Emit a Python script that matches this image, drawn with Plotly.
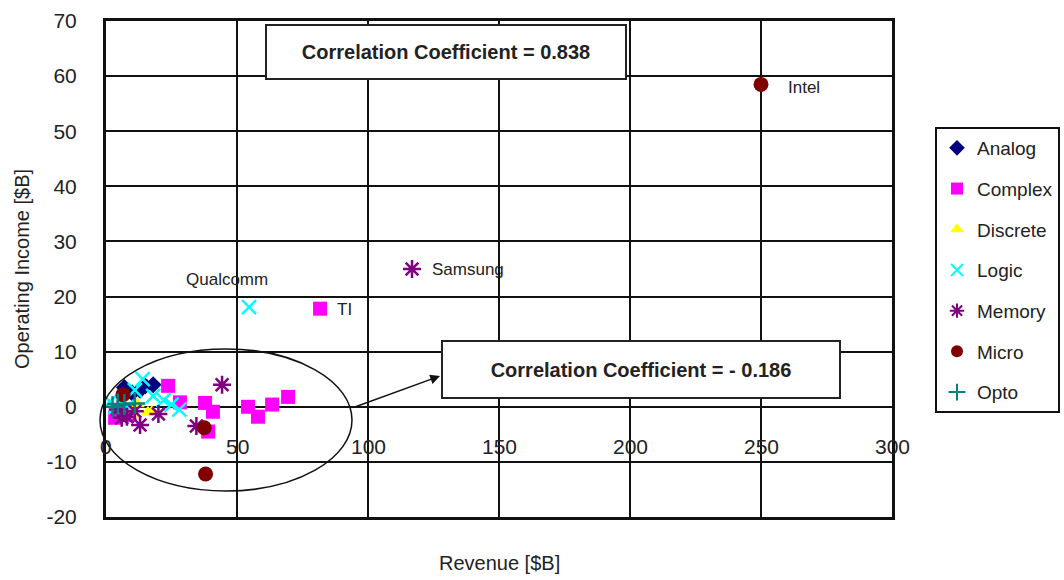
import plotly.graph_objects as go

# Revenue [$B] and operating income [$B] per company, grouped by segment
analog_rev = [7.0, 10.0, 13.0, 15.0, 18.0]
analog_inc = [3.5, 2.5, 3.0, 3.8, 4.0]

complex_rev = [3.5, 6.0, 9.0, 23.7, 28.2, 37.8, 40.8, 39.0, 54.2, 58.0, 63.4, 69.5, 81.7]
complex_inc = [-2.0, -1.2, -1.5, 3.8, 0.8, 0.7, -0.9, -4.5, 0.0, -1.8, 0.4, 1.8, 17.8]

discrete_rev = [8.0, 10.0, 12.0, 16.0, 17.5]
discrete_inc = [-0.5, -1.5, 0.5, -1.0, -0.9]

logic_rev = [1.5, 3.5, 8.0, 11.0, 14.0, 18.0, 22.0, 25.0, 28.0, 54.6]
logic_inc = [0.9, 0.0, 0.0, 3.0, 5.0, 2.0, 1.2, 0.4, -0.5, 18.1]

memory_rev = [4.5, 6.0, 8.0, 11.0, 13.0, 20.0, 34.5, 44.3, 116.8]
memory_inc = [-0.5, -2.0, -1.8, -0.8, -3.3, -1.3, -3.5, 4.0, 25.0]

micro_rev = [6.5, 37.5, 38.0, 250.0]
micro_inc = [2.2, -3.8, -12.2, 58.5]

opto_rev = [2.5, 4.5, 7.0, 11.0]
opto_inc = [0.0, 0.5, 0.4, 0.6]

x_ticks = [0, 50, 100, 150, 200, 250, 300]
y_ticks = [-20, -10, 0, 10, 20, 30, 40, 50, 60, 70]
y_tick_text = ["-20", "-10", "0", "10", "20", "30", "40", "50", "60", "70"]

# Named companies: (label, revenue list, income list, index, x shift, y shift, anchor)
callouts = [
    ("Intel", micro_rev, micro_inc, 3, 25, -3, "left"),
    ("Samsung", memory_rev, memory_inc, 8, 18, 0, "left"),
    ("TI", complex_rev, complex_inc, 12, 15, -1, "left"),
    ("Qualcomm", logic_rev, logic_inc, 9, -22, 28, "center"),
]

all_corr = "Correlation Coefficient = 0.838"
small_corr = "Correlation Coefficient = - 0.186"

FONT = "Liberation Sans, Arial, sans-serif"
INK = "#222"

segments = [
    ("Analog", analog_rev, analog_inc, dict(symbol="diamond", size=13, color="#000080")),
    ("Complex", complex_rev, complex_inc, dict(symbol="square", size=14, color="#FF00FF")),
    ("Discrete", discrete_rev, discrete_inc, dict(symbol="triangle-up", size=13, color="#FFFF00")),
    ("Logic", logic_rev, logic_inc, dict(symbol="x-thin-open", size=14, color="#00FFFF",
                                          line=dict(width=2.5, color="#00FFFF"))),
    ("Memory", memory_rev, memory_inc, dict(symbol="asterisk-open", size=15, color="#800080",
                                            line=dict(width=2.5, color="#800080"))),
    ("Micro", micro_rev, micro_inc, dict(symbol="circle", size=15, color="#800000")),
    ("Opto", opto_rev, opto_inc, dict(symbol="cross-thin-open", size=15, color="#008080",
                                      line=dict(width=2.5, color="#008080"))),
]

fig = go.Figure()
for name, xs, ys, mk in segments:
    fig.add_trace(go.Scatter(x=xs, y=ys, mode="markers", name=name, marker=mk,
                             legendgroup=name))

W, H = 1064, 580
L, R, T, B = 106, 172, 21, 63
pw, ph = W - L - R, H - T - B


def px(xpix):
    return (xpix - L) / pw


def py(ypix):
    return (H - B - ypix) / ph


annotations = []
for label, xs, ys, i, dx, dy, anchor in callouts:
    annotations.append(dict(x=xs[i], y=ys[i], xref="x", yref="y", text=label,
                            showarrow=False, xanchor=anchor, yanchor="middle",
                            xshift=dx, yshift=dy,
                            font=dict(family=FONT, size=17, color=INK)))

# x tick labels sit just below the zero line
for t in x_ticks:
    annotations.append(dict(x=t, y=0, xref="x", yref="y", text=str(t), showarrow=False,
                            xanchor="center", yanchor="middle", yshift=-40,
                            font=dict(family=FONT, size=21, color=INK)))

# correlation boxes
annotations.append(dict(x=px(446), y=py(52), xref="paper", yref="paper",
                        text="<b>" + all_corr + "</b>",
                        xanchor="center", yanchor="middle",
                        showarrow=False, bgcolor="white", bordercolor=INK,
                        borderwidth=2, borderpad=0, width=358, height=52,
                        font=dict(family=FONT, size=20, color=INK), align="center"))
annotations.append(dict(x=px(641), y=py(369), xref="paper", yref="paper",
                        text="<b>" + small_corr + "</b>",
                        xanchor="center", yanchor="middle",
                        showarrow=False, bgcolor="white", bordercolor=INK,
                        borderwidth=2, borderpad=0, width=396, height=55,
                        font=dict(family=FONT, size=20, color=INK), align="center"))
# arrow from the ellipse to the lower box
annotations.append(dict(x=px(440), y=py(376), xref="paper", yref="paper", text="",
                        showarrow=True, axref="pixel", ayref="pixel", ax=-88, ay=32,
                        arrowhead=2, arrowsize=1.3, arrowwidth=1.5, arrowcolor="#111"))

# axis titles
annotations.append(dict(x=px(499), y=py(563), xref="paper", yref="paper", text="Revenue [$B]",
                        xanchor="center", yanchor="middle", showarrow=False,
                        font=dict(family=FONT, size=20, color=INK)))
annotations.append(dict(x=px(22), y=py(269), xref="paper", yref="paper",
                        text="Operating Income [$B]", textangle=-90, showarrow=False,
                        xanchor="center", yanchor="middle",
                        font=dict(family=FONT, size=20, color=INK)))

shapes = [
    dict(type="circle", xref="paper", yref="paper",
         x0=px(100), x1=px(352), y0=py(491), y1=py(349),
         line=dict(color="#111", width=1.5), layer="above"),
]

fig.update_layout(
    width=W, height=H,
    margin=dict(l=L, r=R, t=T, b=B, autoexpand=False),
    paper_bgcolor="white", plot_bgcolor="white",
    font=dict(family=FONT, size=20, color=INK),
    xaxis=dict(range=[0, 300], tickvals=x_ticks, showticklabels=False, ticks="",
               showgrid=True, gridcolor="#111", gridwidth=2, zeroline=False,
               showline=True, linecolor="#111", linewidth=3, mirror=True),
    yaxis=dict(range=[-20, 70], tickvals=y_ticks, ticktext=y_tick_text, ticks="",
               ticklabelstandoff=22,
               tickfont=dict(family=FONT, size=21, color=INK),
               showgrid=True, gridcolor="#111", gridwidth=2,
               zeroline=True, zerolinecolor="#111", zerolinewidth=2,
               showline=True, linecolor="#111", linewidth=3, mirror=True),
    legend=dict(x=px(935), y=py(127), xanchor="left", yanchor="top",
                bordercolor="#111", borderwidth=2, bgcolor="white",
                font=dict(family=FONT, size=19, color=INK),
                tracegroupgap=13, itemsizing="constant", itemwidth=30),
    annotations=annotations,
    shapes=shapes,
)

fig.write_html("out.html")
